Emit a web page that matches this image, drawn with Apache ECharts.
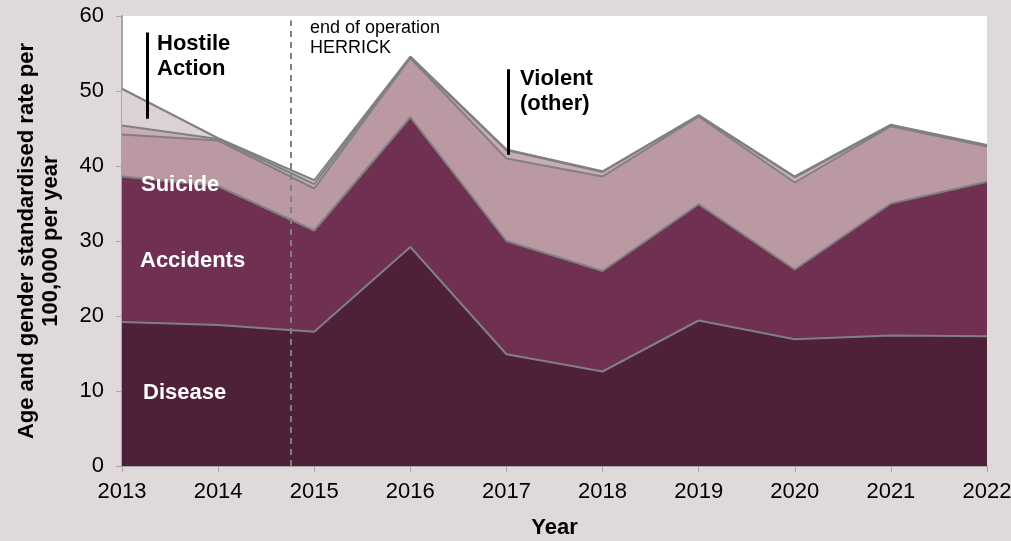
<!DOCTYPE html>
<html>
<head>
<meta charset="utf-8">
<script src="https://cdn.jsdelivr.net/npm/echarts@6/dist/echarts.min.js"></script>
<style>
html,body{margin:0;padding:0;background:#e0d9da;}
#chart{width:1011px;height:541px;}
</style>
</head>
<body>
<div id="chart"></div>
<script>
// Data
const years = ['2013', '2014', '2015', '2016', '2017', '2018', '2019', '2020', '2021', '2022'];
const disease   = [19.2, 18.8, 17.9, 29.2, 14.9, 12.6, 19.4, 16.9, 17.4, 17.3];
const accidents = [19.4, 18.5, 13.5, 17.3, 15.1, 13.4, 15.5, 9.3, 17.6, 20.6];
const suicide   = [5.6, 6.1, 5.6, 7.9, 11.0, 12.6, 11.7, 11.6, 10.3, 4.7];
const violent   = [1.2, 0.2, 0.6, 0.1, 1.1, 0.6, 0.1, 0.7, 0.1, 0.1];
const hostile   = [4.9, 0.1, 0.5, 0.1, 0.1, 0.1, 0.1, 0.1, 0.1, 0.1];
const yTicks = [0, 10, 20, 30, 40, 50, 60];
const herrickEnd = 2014.755;

const FONT = '"Liberation Sans", Arial, sans-serif';

function areaSeries(name, data, color) {
  return {
    name: name, type: 'line', stack: 'total', data: data,
    symbol: 'none', smooth: false,
    lineStyle: {color: '#808080', width: 2},
    areaStyle: {color: color, opacity: 1},
    emphasis: {disabled: true}, silent: true
  };
}

const series = [
  areaSeries('Disease', disease, '#4e2039'),
  areaSeries('Accidents', accidents, '#703052'),
  areaSeries('Suicide', suicide, '#ba99a3'),
  areaSeries('Violent (other)', violent, '#c9adb4'),
  areaSeries('Hostile Action', hostile, '#dcd2d4'),
  {
    name: 'annotations', type: 'line', xAxisIndex: 1, data: [], silent: true,
    markLine: {
      silent: true, symbol: ['none', 'none'], animation: false,
      label: {show: false},
      data: [
        [{coord: [herrickEnd, 0], lineStyle: {color: '#808080', width: 2, type: [6, 5]}},
         {coord: [herrickEnd, 59.4]}],
        [{coord: [2013.263, 46.3], lineStyle: {color: '#000', width: 3, type: 'solid'}},
         {coord: [2013.263, 57.8]}],
        [{coord: [2017.02, 41.5], lineStyle: {color: '#000', width: 3, type: 'solid'}},
         {coord: [2017.02, 52.9]}]
      ]
    }
  }
];

const chart = echarts.init(document.getElementById('chart'));
chart.setOption({
  animation: false,
  backgroundColor: '#e0d9da',
  textStyle: {fontFamily: FONT},
  grid: {left: 122, right: 24, top: 16, bottom: 75, show: true, backgroundColor: '#ffffff',
         borderWidth: 0, containLabel: false, outerBoundsMode: 'none'},
  xAxis: [{
    type: 'category', data: years, boundaryGap: false,
    name: 'Year', nameLocation: 'middle', nameGap: 51,
    nameTextStyle: {fontFamily: FONT, fontSize: 22, fontWeight: 'bold', color: '#000'},
    axisLine: {show: true, lineStyle: {color: '#a6a6a6', width: 2}},
    axisTick: {show: true, length: 6, alignWithLabel: true, lineStyle: {color: '#a6a6a6'}},
    axisLabel: {fontFamily: FONT, fontSize: 22, color: '#000', margin: 15, interval: 0},
    splitLine: {show: false}
  }, {
    type: 'value', min: 2013, max: 2022, show: false, position: 'bottom'
  }],
  yAxis: {
    type: 'value', min: yTicks[0], max: yTicks[yTicks.length - 1], interval: 10,
    name: 'Age and gender standardised rate per\n100,000 per year',
    nameLocation: 'middle', nameGap: 59, nameRotate: 90,
    nameTextStyle: {fontFamily: FONT, fontSize: 22, fontWeight: 'bold', color: '#000', lineHeight: 24},
    axisLine: {show: true, lineStyle: {color: '#a6a6a6', width: 2}},
    axisTick: {show: true, length: 6, lineStyle: {color: '#a6a6a6'}},
    axisLabel: {fontFamily: FONT, fontSize: 22, color: '#000', margin: 18},
    splitLine: {show: false}
  },
  series: series,
  graphic: [
    {type: 'text', left: 157, top: 31, z: 100, style: {text: 'Hostile\nAction', font: 'bold 22px ' + FONT, fill: '#000', lineHeight: 25}},
    {type: 'text', left: 520, top: 66, z: 100, style: {text: 'Violent\n(other)', font: 'bold 22px ' + FONT, fill: '#000', lineHeight: 25}},
    {type: 'text', left: 310, top: 18, z: 100, style: {text: 'end of operation\nHERRICK', font: '18px ' + FONT, fill: '#000', lineHeight: 20}},
    {type: 'text', left: 141, top: 174, z: 100, style: {text: 'Suicide', font: 'bold 22px ' + FONT, fill: '#ffffff'}},
    {type: 'text', left: 140, top: 250, z: 100, style: {text: 'Accidents', font: 'bold 22px ' + FONT, fill: '#ffffff'}},
    {type: 'text', left: 143, top: 382, z: 100, style: {text: 'Disease', font: 'bold 22px ' + FONT, fill: '#ffffff'}}
  ]
});
</script>
</body>
</html>
